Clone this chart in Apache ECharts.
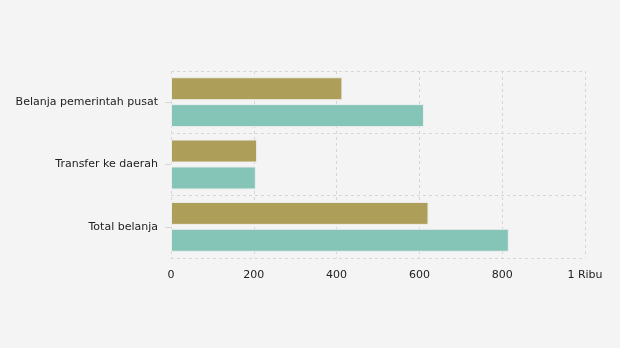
<!DOCTYPE html>
<html>
<head>
<meta charset="utf-8">
<script src="https://cdn.jsdelivr.net/npm/echarts@6/dist/echarts.min.js"></script>
<style>
  html, body { margin: 0; padding: 0; background: #f4f4f4; }
  #chart { width: 620px; height: 348px; }
</style>
</head>
<body>
<div id="chart"></div>
<script>
// Spending categories, top to bottom
const categories = ['Belanja pemerintah pusat', 'Transfer ke daerah', 'Total belanja'];
// Two spending series per category
const seriesA = [414, 208, 622];
const seriesB = [611, 205, 816];
const xTicks = [0, 200, 400, 600, 800, 1000];

const chart = echarts.init(document.getElementById('chart'), null, { renderer: 'canvas' });

const fontFamily = '"DejaVu Sans", Verdana, sans-serif';
const gridLine = { show: true, lineStyle: { color: '#d6d6d6', type: [3, 3], width: 1 } };

chart.setOption({
  backgroundColor: '#f4f4f4',
  animation: false,
  grid: { left: 171, right: 35, top: 71, bottom: 90, containLabel: false },
  xAxis: {
    type: 'value',
    min: xTicks[0],
    max: xTicks[xTicks.length - 1],
    interval: 200,
    axisLine: { show: false },
    axisTick: { show: false },
    splitLine: gridLine,
    axisLabel: {
      color: '#222',
      fontSize: 11,
      fontFamily: fontFamily,
      margin: 12,
      formatter: v => (v >= 1000 ? (v / 1000) + ' Ribu' : String(v))
    }
  },
  yAxis: {
    type: 'category',
    data: categories,
    inverse: true,
    axisLine: { show: false },
    axisTick: { show: true, alignWithLabel: true, length: 6, lineStyle: { color: '#d6d6d6' } },
    splitLine: gridLine,
    axisLabel: { color: '#222', fontSize: 11, fontFamily: fontFamily, margin: 13 }
  },
  series: [
    {
      name: 'A',
      type: 'bar',
      data: seriesA,
      barWidth: 23,
      barGap: '17%',
      itemStyle: { color: '#ad9f59', borderColor: '#eeeeee', borderWidth: 1 }
    },
    {
      name: 'B',
      type: 'bar',
      data: seriesB,
      barWidth: 23,
      barGap: '17%',
      itemStyle: { color: '#85c5b8', borderColor: '#eeeeee', borderWidth: 1 }
    }
  ]
});
</script>
</body>
</html>
